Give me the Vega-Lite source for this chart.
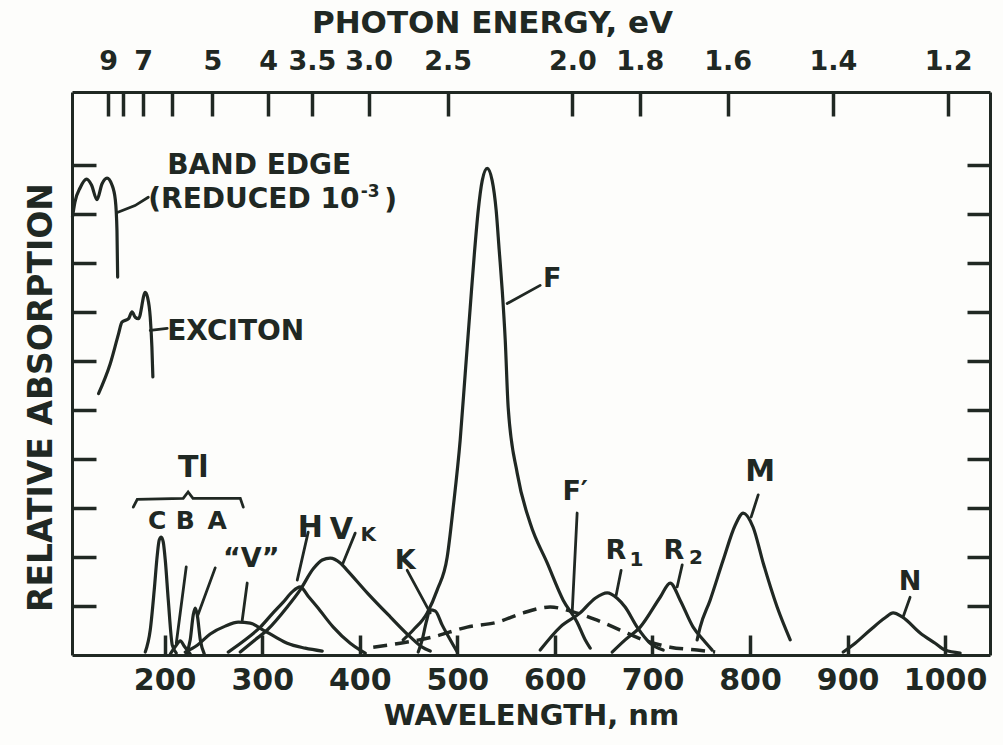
{
"$schema":"https://vega.github.io/schema/vega-lite/v6.json",
"width":918,"height":563,
"autosize":{"type":"none"},
"padding":{"left":72,"top":92,"right":13,"bottom":90},
"background":"#fdfdfb",
"config":{"view":{"stroke":null},"font":"DejaVu Sans",
"axis":{"domainColor":"#202823","domainWidth":3,"tickColor":"#202823","tickWidth":3.5,"labelColor":"#202823","titleColor":"#202823","labelFont":"DejaVu Sans","titleFont":"DejaVu Sans","labelFontWeight":"bold","titleFontWeight":"bold","grid":false,"labelFlush":false,"labelOverlap":false}},
"datasets":{
"curves":[
{"band":"C","wl":180.1,"a":0.06},{"band":"C","wl":185.2,"a":0.51},{"band":"C","wl":189.3,"a":1.33},{"band":"C","wl":192.4,"a":2.04},{"band":"C","wl":194.4,"a":2.35},{"band":"C","wl":196.5,"a":2.41},{"band":"C","wl":198.5,"a":2.31},{"band":"C","wl":200.6,"a":1.94},{"band":"C","wl":203.7,"a":1.12},{"band":"C","wl":207.8,"a":0.2},{"band":"C","wl":211.9,"a":0.04},
{"band":"B","wl":205.7,"a":0.02},{"band":"B","wl":211.9,"a":0.2},{"band":"B","wl":216,"a":0.29},{"band":"B","wl":220.1,"a":0.18},{"band":"B","wl":226.2,"a":0.02},
{"band":"A","wl":222.1,"a":0.02},{"band":"A","wl":226.2,"a":0.31},{"band":"A","wl":229.3,"a":0.82},{"band":"A","wl":231.3,"a":0.96},{"band":"A","wl":233.4,"a":0.82},{"band":"A","wl":236.5,"a":0.31},{"band":"A","wl":240.6,"a":0.02},
{"band":"V","wl":221.1,"a":0.06},{"band":"V","wl":233.4,"a":0.2},{"band":"V","wl":246.7,"a":0.43},{"band":"V","wl":262.1,"a":0.59},{"band":"V","wl":275.4,"a":0.67},{"band":"V","wl":287.7,"a":0.65},{"band":"V","wl":301,"a":0.51},{"band":"V","wl":313.3,"a":0.37},{"band":"V","wl":325.6,"a":0.24},{"band":"V","wl":344.1,"a":0.14},{"band":"V","wl":361.5,"a":0.08},
{"band":"H","wl":265.2,"a":0.06},{"band":"H","wl":282.6,"a":0.31},{"band":"H","wl":298,"a":0.57},{"band":"H","wl":310.2,"a":0.84},{"band":"H","wl":321.5,"a":1.08},{"band":"H","wl":330.7,"a":1.29},{"band":"H","wl":338.9,"a":1.39},{"band":"H","wl":347.1,"a":1.2},{"band":"H","wl":356.4,"a":0.98},{"band":"H","wl":372.8,"a":0.57},{"band":"H","wl":390.2,"a":0.24},{"band":"H","wl":400.4,"a":0.1},{"band":"H","wl":405.6,"a":0.04},
{"band":"Vk","wl":277.5,"a":0.06},{"band":"Vk","wl":292.8,"a":0.31},{"band":"Vk","wl":305.1,"a":0.51},{"band":"Vk","wl":325.6,"a":0.98},{"band":"Vk","wl":338.9,"a":1.33},{"band":"Vk","wl":352.3,"a":1.76},{"band":"Vk","wl":361.5,"a":1.94},{"band":"Vk","wl":369.7,"a":1.98},{"band":"Vk","wl":380,"a":1.88},{"band":"Vk","wl":387.1,"a":1.73},{"band":"Vk","wl":407.6,"a":1.27},{"band":"Vk","wl":431.2,"a":0.78},{"band":"Vk","wl":451.7,"a":0.37},{"band":"Vk","wl":464,"a":0.16},{"band":"Vk","wl":472.2,"a":0.08},
{"band":"K","wl":459.9,"a":0.06},{"band":"K","wl":464,"a":0.31},{"band":"K","wl":468.1,"a":0.67},{"band":"K","wl":472.2,"a":0.92},{"band":"K","wl":477.3,"a":0.9},{"band":"K","wl":484.5,"a":0.61},{"band":"K","wl":492.7,"a":0.31},{"band":"K","wl":499.9,"a":0.06},
{"band":"F","wl":444.5,"a":0.31},{"band":"F","wl":454.8,"a":0.51},{"band":"F","wl":469.1,"a":0.86},{"band":"F","wl":479.4,"a":1.33},{"band":"F","wl":489.6,"a":2.0},{"band":"F","wl":495.8,"a":3.02},{"band":"F","wl":502.9,"a":4.39},{"band":"F","wl":508.1,"a":5.76},{"band":"F","wl":513.2,"a":7.1},{"band":"F","wl":517.3,"a":8.16},{"band":"F","wl":521.4,"a":9.08},{"band":"F","wl":525.5,"a":9.69},{"band":"F","wl":530.6,"a":9.94},{"band":"F","wl":535.7,"a":9.69},{"band":"F","wl":539.8,"a":9.08},{"band":"F","wl":542.9,"a":8.27},{"band":"F","wl":546,"a":7.45},{"band":"F","wl":549.1,"a":6.43},{"band":"F","wl":552.1,"a":5.06},{"band":"F","wl":561.4,"a":3.71},{"band":"F","wl":574.7,"a":2.69},{"band":"F","wl":592.1,"a":1.88},{"band":"F","wl":608.5,"a":1.12},{"band":"F","wl":622.8,"a":0.67},{"band":"F","wl":631,"a":0.31},{"band":"F","wl":636.2,"a":0.14},
{"band":"R1","wl":584.9,"a":0.1},{"band":"R1","wl":605.4,"a":0.57},{"band":"R1","wl":625.9,"a":0.86},{"band":"R1","wl":641.3,"a":1.16},{"band":"R1","wl":653.6,"a":1.27},{"band":"R1","wl":663.8,"a":1.16},{"band":"R1","wl":672,"a":0.98},{"band":"R1","wl":684.3,"a":0.57},{"band":"R1","wl":697.7,"a":0.24},{"band":"R1","wl":711,"a":0.1},
{"band":"R2","wl":658.7,"a":0.06},{"band":"R2","wl":672,"a":0.31},{"band":"R2","wl":687.4,"a":0.57},{"band":"R2","wl":707.9,"a":1.18},{"band":"R2","wl":718.2,"a":1.47},{"band":"R2","wl":728.4,"a":1.12},{"band":"R2","wl":741.7,"a":0.57},{"band":"R2","wl":752,"a":0.31},{"band":"R2","wl":761.2,"a":0.1},
{"band":"M","wl":745.8,"a":0.31},{"band":"M","wl":748.9,"a":0.57},{"band":"M","wl":759.1,"a":1.12},{"band":"M","wl":772.5,"a":1.94},{"band":"M","wl":784.8,"a":2.65},{"band":"M","wl":793,"a":2.9},{"band":"M","wl":803.2,"a":2.61},{"band":"M","wl":813.5,"a":1.88},{"band":"M","wl":827.8,"a":0.98},{"band":"M","wl":841.2,"a":0.31},
{"band":"N","wl":895.5,"a":0.06},{"band":"N","wl":907.8,"a":0.24},{"band":"N","wl":923.2,"a":0.51},{"band":"N","wl":938.5,"a":0.76},{"band":"N","wl":946.7,"a":0.86},{"band":"N","wl":956,"a":0.78},{"band":"N","wl":974.4,"a":0.45},{"band":"N","wl":989.8,"a":0.24},{"band":"N","wl":1000,"a":0.1},{"band":"N","wl":1015.4,"a":0.04},
{"band":"BE","wl":105.5,"a":8.95},{"band":"BE","wl":108,"a":9.25},{"band":"BE","wl":113.5,"a":9.55},{"band":"BE","wl":120,"a":9.72},{"band":"BE","wl":125,"a":9.6},{"band":"BE","wl":130.6,"a":9.3},{"band":"BE","wl":135.7,"a":9.62},{"band":"BE","wl":140.9,"a":9.74},{"band":"BE","wl":146,"a":9.6},{"band":"BE","wl":149.4,"a":9.3},{"band":"BE","wl":151.1,"a":8.67},{"band":"BE","wl":151.8,"a":7.72},
{"band":"EX","wl":132.2,"a":5.34},{"band":"EX","wl":144.2,"a":5.95},{"band":"EX","wl":152.7,"a":6.56},{"band":"EX","wl":156.2,"a":6.8},{"band":"EX","wl":163,"a":6.87},{"band":"EX","wl":166.5,"a":7.01},{"band":"EX","wl":169.8,"a":6.9},{"band":"EX","wl":173.2,"a":6.87},{"band":"EX","wl":180.1,"a":7.41},{"band":"EX","wl":182.4,"a":7.31},{"band":"EX","wl":185.2,"a":6.9},{"band":"EX","wl":186.9,"a":6.29},{"band":"EX","wl":187.9,"a":5.68}
],
"fprime":[
{"wl":413.8,"a":0.16},{"wl":441.5,"a":0.24},{"wl":475.3,"a":0.37},{"wl":510.1,"a":0.57},{"wl":540.9,"a":0.67},{"wl":567.5,"a":0.86},{"wl":595.2,"a":0.98},{"wl":618.7,"a":0.88},{"wl":643.3,"a":0.71},{"wl":666.9,"a":0.51},{"wl":690.5,"a":0.31},{"wl":718.2,"a":0.16},{"wl":745.8,"a":0.1},{"wl":764.3,"a":0.06}
],
"pointers":[
{"id":"pB","wl":222.1,"a":1.8},{"id":"pB","wl":211.9,"a":0.24},
{"id":"pA","wl":251.8,"a":1.78},{"id":"pA","wl":233.4,"a":0.78},
{"id":"pV","wl":284.6,"a":1.47},{"id":"pV","wl":279.5,"a":0.71},
{"id":"pH","wl":347.1,"a":2.51},{"id":"pH","wl":335.9,"a":1.53},
{"id":"pVk","wl":395.3,"a":2.49},{"id":"pVk","wl":382,"a":1.84},
{"id":"pK","wl":448.6,"a":1.73},{"id":"pK","wl":472.2,"a":0.86},
{"id":"pF","wl":551.1,"a":7.18},{"id":"pF","wl":584.9,"a":7.55},
{"id":"pFp","wl":622.8,"a":2.9},{"id":"pFp","wl":617.7,"a":0.86},
{"id":"pR1","wl":667.9,"a":1.73},{"id":"pR1","wl":662.8,"a":1.22},
{"id":"pR2","wl":730.5,"a":1.84},{"id":"pR2","wl":725.3,"a":1.39},
{"id":"pM","wl":808.4,"a":3.27},{"id":"pM","wl":801.2,"a":2.82},
{"id":"pN","wl":964.1,"a":1.18},{"id":"pN","wl":957,"a":0.78},
{"id":"pBE","wl":151.4,"a":9.04},{"id":"pBE","wl":169.6,"a":9.18},{"id":"pBE","wl":183.2,"a":9.35},
{"id":"pEX","wl":185.2,"a":6.63},{"id":"pEX","wl":202.6,"a":6.67},
{"id":"brace","wl":167.8,"a":3.02},{"id":"brace","wl":171.9,"a":3.18},{"id":"brace","wl":219,"a":3.2},{"id":"brace","wl":224,"a":3.33},{"id":"brace","wl":229,"a":3.2},{"id":"brace","wl":277.5,"a":3.2},{"id":"brace","wl":280.6,"a":3.02}
],
"labels":[
{"t":"Tl","wl":229.3,"a":3.82,"role":"big"},{"t":"H","wl":349.2,"a":2.59,"role":"big"},{"t":"V","wl":381,"a":2.55,"role":"big"},{"t":"M","wl":810.4,"a":3.73,"role":"big"},
{"t":"“V”","wl":288.7,"a":1.96,"role":"mid"},{"t":"K","wl":446.6,"a":1.92,"role":"mid"},{"t":"F","wl":597.2,"a":7.69,"role":"mid"},{"t":"F′","wl":620.8,"a":3.33,"role":"mid"},{"t":"R","wl":662.5,"a":2.12,"role":"mid"},{"t":"R","wl":722,"a":2.12,"role":"mid"},{"t":"N","wl":964.1,"a":1.49,"role":"mid"},
{"t":"C","wl":192.4,"a":2.73,"role":"small"},{"t":"B","wl":221.1,"a":2.73,"role":"small"},{"t":"A","wl":253.9,"a":2.73,"role":"small"},
{"t":"K","wl":408.6,"a":2.45,"role":"sub"},{"t":"1","wl":683.5,"a":1.94,"role":"sub"},{"t":"2","wl":744.5,"a":1.98,"role":"sub"},
{"t":"BAND EDGE","wl":202.6,"a":9.98,"role":"note"},{"t":"(REDUCED 10","wl":183.2,"a":9.29,"role":"note"},{"t":")","wl":425,"a":9.27,"role":"note"},{"t":"EXCITON","wl":202.6,"a":6.59,"role":"note"},
{"t":"-3","wl":401,"a":9.45,"role":"sup"}
]
},
"layer":[
{"data":{"name":"curves"},
 "mark":{"type":"line","interpolate":"monotone","strokeWidth":3.2,"color":"#202823","strokeCap":"round","strokeJoin":"round"},
 "encoding":{
  "x":{"field":"wl","type":"quantitative","scale":{"domain":[105,1046],"nice":false,"zero":false},
   "axis":{"orient":"bottom","values":[200,300,400,500,600,700,800,900,1000],"format":"d","tickSize":-20,"labelPadding":30,"labelFontSize":30,"title":"WAVELENGTH, nm","titleFontSize":29,"titlePadding":6}},
  "y":{"field":"a","type":"quantitative","scale":{"domain":[0,11.5],"nice":false,"zero":false},
   "axis":{"orient":"left","values":[1,2,3,4,5,6,7,8,9,10],"labels":false,"tickSize":-24,"title":"RELATIVE ABSORPTION","titleFontSize":33,"titlePadding":12,"titleY":305}},
  "detail":{"field":"band"}}},
{"data":{"name":"fprime"},
 "mark":{"type":"line","interpolate":"monotone","strokeWidth":3.5,"strokeDash":[14,8],"color":"#202823"},
 "encoding":{
  "x":{"field":"wl","type":"quantitative","scale":{"domain":[105,1046],"nice":false,"zero":false},
   "axis":{"orient":"top","values":[142,157,178,208,249,306,351,409,490,618,687,777,885,1003],
    "labelExpr":"['9','','7','','5','4','3.5','3.0','2.5','2.0','1.8','1.6','1.4','1.2'][indexof([142,157,178,208,249,306,351,409,490,618,687,777,885,1003], datum.value)]",
    "tickSize":-24,"labelPadding":41,"labelFontSize":27,"title":"PHOTON ENERGY, eV","titleFontSize":31,"titlePadding":8,"titleX":420}},
  "y":{"field":"a","type":"quantitative","scale":{"domain":[0,11.5],"nice":false,"zero":false},
   "axis":{"orient":"right","values":[1,2,3,4,5,6,7,8,9,10],"labels":false,"tickSize":-23,"title":null}}}},
{"data":{"name":"pointers"},
 "mark":{"type":"line","strokeWidth":2.8,"color":"#202823","strokeCap":"round"},
 "encoding":{
  "x":{"field":"wl","type":"quantitative","scale":{"domain":[105,1046],"nice":false,"zero":false},"axis":null},
  "y":{"field":"a","type":"quantitative","scale":{"domain":[0,11.5],"nice":false,"zero":false},"axis":null},
  "detail":{"field":"id"}}},
{"data":{"name":"labels"},"transform":[{"filter":"datum.role==='big'"}],
 "mark":{"type":"text","fontSize":30,"fontWeight":"bold","font":"DejaVu Sans","color":"#202823","align":"center","baseline":"middle"},
 "encoding":{"x":{"field":"wl","type":"quantitative","scale":{"domain":[105,1046],"nice":false,"zero":false},"axis":null},"y":{"field":"a","type":"quantitative","scale":{"domain":[0,11.5],"nice":false,"zero":false},"axis":null},"text":{"field":"t"}}},
{"data":{"name":"labels"},"transform":[{"filter":"datum.role==='mid'"}],
 "mark":{"type":"text","fontSize":27,"fontWeight":"bold","font":"DejaVu Sans","color":"#202823","align":"center","baseline":"middle"},
 "encoding":{"x":{"field":"wl","type":"quantitative","scale":{"domain":[105,1046],"nice":false,"zero":false},"axis":null},"y":{"field":"a","type":"quantitative","scale":{"domain":[0,11.5],"nice":false,"zero":false},"axis":null},"text":{"field":"t"}}},
{"data":{"name":"labels"},"transform":[{"filter":"datum.role==='small'"}],
 "mark":{"type":"text","fontSize":25,"fontWeight":"bold","font":"DejaVu Sans","color":"#202823","align":"center","baseline":"middle"},
 "encoding":{"x":{"field":"wl","type":"quantitative","scale":{"domain":[105,1046],"nice":false,"zero":false},"axis":null},"y":{"field":"a","type":"quantitative","scale":{"domain":[0,11.5],"nice":false,"zero":false},"axis":null},"text":{"field":"t"}}},
{"data":{"name":"labels"},"transform":[{"filter":"datum.role==='sub'"}],
 "mark":{"type":"text","fontSize":20,"fontWeight":"bold","font":"DejaVu Sans","color":"#202823","align":"center","baseline":"middle"},
 "encoding":{"x":{"field":"wl","type":"quantitative","scale":{"domain":[105,1046],"nice":false,"zero":false},"axis":null},"y":{"field":"a","type":"quantitative","scale":{"domain":[0,11.5],"nice":false,"zero":false},"axis":null},"text":{"field":"t"}}},
{"data":{"name":"labels"},"transform":[{"filter":"datum.role==='note'"}],
 "mark":{"type":"text","fontSize":28,"fontWeight":"bold","font":"DejaVu Sans","color":"#202823","align":"left","baseline":"middle"},
 "encoding":{"x":{"field":"wl","type":"quantitative","scale":{"domain":[105,1046],"nice":false,"zero":false},"axis":null},"y":{"field":"a","type":"quantitative","scale":{"domain":[0,11.5],"nice":false,"zero":false},"axis":null},"text":{"field":"t"}}},
{"data":{"name":"labels"},"transform":[{"filter":"datum.role==='sup'"}],
 "mark":{"type":"text","fontSize":17,"fontWeight":"bold","font":"DejaVu Sans","color":"#202823","align":"left","baseline":"middle"},
 "encoding":{"x":{"field":"wl","type":"quantitative","scale":{"domain":[105,1046],"nice":false,"zero":false},"axis":null},"y":{"field":"a","type":"quantitative","scale":{"domain":[0,11.5],"nice":false,"zero":false},"axis":null},"text":{"field":"t"}}}
],
"resolve":{"axis":{"x":"independent","y":"independent"}}
}
